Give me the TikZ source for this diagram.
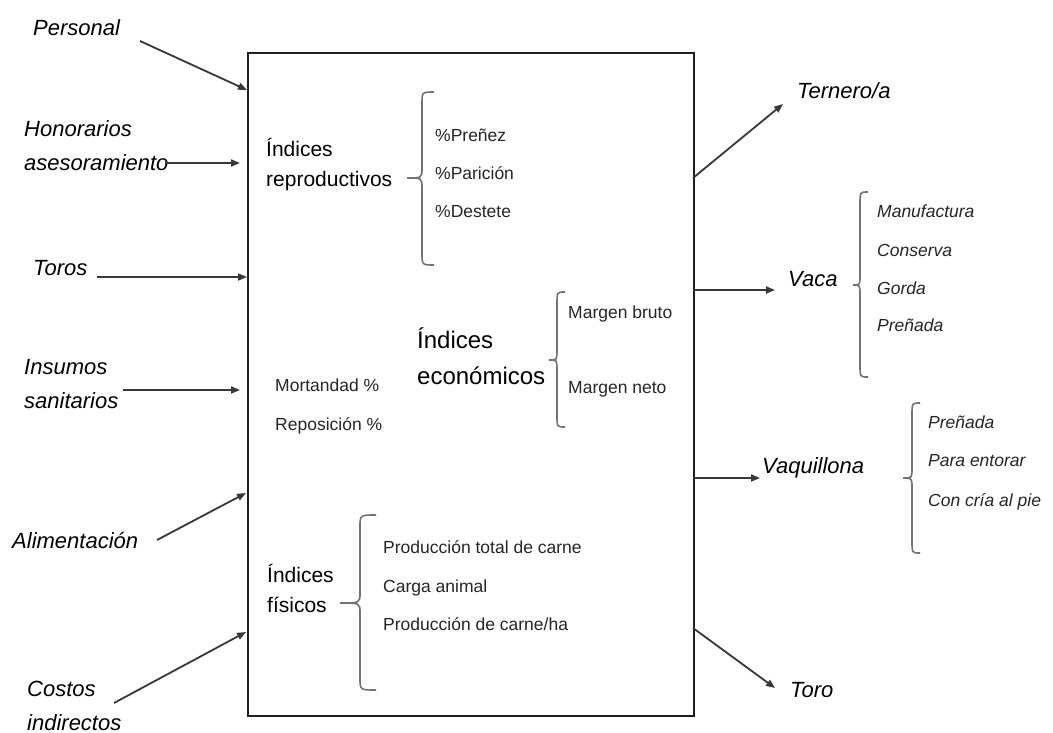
\documentclass[tikz,border=0pt]{standalone}
\usepackage{fontspec}
\setmainfont{Liberation Sans}
\usetikzlibrary{arrows.meta}
\newcommand\mybrace[6]{%
  \draw[brc] ({#1+#5},#2) .. controls (#1,#2) .. (#1,{#2+12}) -- (#1,{#3-10})
    .. controls (#1,#3) .. ({#1-#6},#3) .. controls (#1,#3) .. (#1,{#3+10})
    -- (#1,{#4-12}) .. controls (#1,#4) .. ({#1+#5},#4);}
\begin{document}
\begin{tikzpicture}[x=1pt,y=-1pt,
  lab/.style={font=\fontsize{22}{34}\selectfont\itshape, anchor=base west, align=left, inner sep=0pt, text=black},
  headA/.style={font=\fontsize{21}{30}\selectfont, anchor=base west, align=left, inner sep=0pt, text=black},
  headB/.style={font=\fontsize{24}{36}\selectfont, anchor=base west, align=left, inner sep=0pt, text=black},
  item/.style={font=\fontsize{17.5}{21}\selectfont, anchor=base west, inner sep=0pt, text=black!85},
  itemit/.style={item, font=\fontsize{17.5}{21}\selectfont\itshape},
  arr/.style={draw=black!78, line width=1.8, -{Triangle[length=9,width=7]}},
  brc/.style={draw=black!55, line width=1.6},
  boxst/.style={draw=black!88, line width=2.4, inner sep=0pt}]
\useasboundingbox (0,0) rectangle (1053,733);
\fill[white] (0,0) rectangle (1053,733);

% central box
\node[boxst, minimum width=446, minimum height=663, anchor=north west] (box) at (247,52) {};

% left labels (multi-line nodes: base = last line)
\node[lab] (per) at (33,36) {Personal};
\node[lab] (hon) at (24,171) {Honorarios\\asesoramiento};
\node[lab] (tor) at (33,275) {Toros};
\node[lab] (ins) at (24,408) {Insumos\\sanitarios};
\node[lab] (ali) at (12,548) {Alimentación};
\node[lab] (cos) at (27,730) {Costos\\indirectos};

% right labels
\node[lab] (ter) at (797,99) {Ternero/a};
\node[lab] (vac) at (788,286) {Vaca};
\node[lab] (vaq) at (762,473) {Vaquillona};
\node[lab] (toro) at (790,697) {Toro};

% arrow end points
\coordinate (perS) at (140,41);  \coordinate (perE) at (247,90);
\coordinate (honS) at (165,163); \coordinate (honE) at (240,163);
\coordinate (torS) at (97,277);  \coordinate (torE) at (247,277);
\coordinate (insS) at (123,390); \coordinate (insE) at (240,390);
\coordinate (aliS) at (157,540); \coordinate (aliE) at (246,493);
\coordinate (cosS) at (114,703); \coordinate (cosE) at (246,632);
\coordinate (terS) at (693,178); \coordinate (terE) at (783,104);
\coordinate (vacS) at (693,290); \coordinate (vacE) at (775,290);
\coordinate (vaqS) at (693,478); \coordinate (vaqE) at (760,478);
\coordinate (toroS) at (693,628); \coordinate (toroE) at (775,688);

\draw[arr] (perS) -- (perE);
\draw[arr] (honS) -- (honE);
\draw[arr] (torS) -- (torE);
\draw[arr] (insS) -- (insE);
\draw[arr] (aliS) -- (aliE);
\draw[arr] (cosS) -- (cosE);
\draw[arr] (terS) -- (terE);
\draw[arr] (vacS) -- (vacE);
\draw[arr] (vaqS) -- (vaqE);
\draw[arr] (toroS) -- (toroE);

% Indices reproductivos
\node[headA] (irep) at (266,187) {Índices\\reproductivos};
\mybrace{422}{92}{178}{265}{12}{15}
\node[item] (r1) at (435,142) {\%Preñez};
\node[item] (r2) at (435,180) {\%Parición};
\node[item] (r3) at (435,218) {\%Destete};

% Indices economicos
\node[headB] (ieco) at (417,384) {Índices\\económicos};
\mybrace{557}{292}{360}{427}{8}{8}
\node[item] (e1) at (568,318) {Margen bruto};
\node[item] (e2) at (568,393) {Margen neto};

\node[item] (m1) at (275,391) {Mortandad \%};
\node[item] (m2) at (275,430) {Reposición \%};

% Indices fisicos
\node[headA] (ifis) at (267,612) {Índices\\físicos};
\mybrace{360}{515}{603}{690}{16}{20}
\node[item] (f1) at (383,553) {Producción total de carne};
\node[item] (f2) at (383,592) {Carga animal};
\node[item] (f3) at (383,630) {Producción de carne/ha};

% Vaca
\mybrace{860}{192}{285}{377}{8}{7}
\node[itemit] (v1) at (877,218) {Manufactura};
\node[itemit] (v2) at (877,256) {Conserva};
\node[itemit] (v3) at (877,294) {Gorda};
\node[itemit] (v4) at (877,331) {Preñada};

% Vaquillona
\mybrace{912}{403}{478}{553}{8}{9}
\node[itemit] (q1) at (928,428) {Preñada};
\node[itemit] (q2) at (928,466) {Para entorar};
\node[itemit] (q3) at (928,506) {Con cría al pie};
\end{tikzpicture}
\end{document}
